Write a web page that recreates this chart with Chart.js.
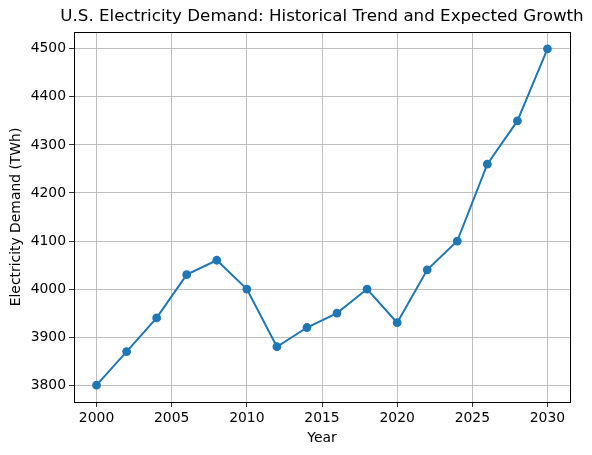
<!DOCTYPE html>
<html><head><meta charset="utf-8">
<script src="https://cdn.jsdelivr.net/npm/chart.js@4"></script>
<style>html,body{margin:0;padding:0;background:#fff}#wrap{width:592px;height:455px}</style>
</head><body><div id="wrap"><canvas id="c" width="592" height="455"></canvas></div>
<script>
const years = [2000,2002,2004,2006,2008,2010,2012,2014,2016,2018,2020,2022,2024,2026,2028,2030];
const demand = [3800,3870,3940,4030,4060,4000,3880,3920,3950,4000,3930,4040,4100,4260,4350,4500];
const xTicks = [2000,2005,2010,2015,2020,2025,2030];
const yTicks = [3800,3900,4000,4100,4200,4300,4400,4500];
const titleText = 'U.S. Electricity Demand: Historical Trend and Expected Growth';
const FONT = "'DejaVu Sans', sans-serif";

const frame = {
  id:'frame',
  afterDraw(chart){
    const {ctx, chartArea:a} = chart;
    ctx.save();
    ctx.strokeStyle='#000'; ctx.lineWidth=1;
    ctx.strokeRect(Math.round(a.left)+0.5, Math.round(a.top)+0.5, Math.round(a.right-a.left), Math.round(a.bottom-a.top));
    ctx.fillStyle='#000';
    ctx.font = "16.7px " + FONT;
    ctx.textAlign='center'; ctx.textBaseline='middle';
    ctx.fillText(titleText, (a.left+a.right)/2, 17);
    ctx.restore();
  }
};

new Chart(document.getElementById('c'), {
  type:'line',
  data:{ datasets:[{
    data: years.map((y,i)=>({x:y,y:demand[i]})),
    borderColor:'#1f77b4', backgroundColor:'#1f77b4',
    borderWidth:2, pointRadius:4.4, pointHoverRadius:4.4, pointBorderWidth:0, tension:0
  }]},
  options:{
    responsive:false, animation:false,
    layout:{padding:{top:32,right:22,left:0,bottom:0}},
    plugins:{legend:{display:false}, tooltip:{enabled:false}, title:{display:false}},
    scales:{
      x:{type:'linear', min:1998.5, max:2031.5,
        afterBuildTicks(s){ s.ticks = xTicks.map(v=>({value:v})); },
        afterFit(s){ s.height = 53; },
        grid:{color:'#b0b0b0', lineWidth:0.8, tickColor:'#000', tickLength:5, drawTicks:true},
        border:{display:false},
        ticks:{color:'#000', font:{family:FONT, size:13.9}, padding:3, maxRotation:0, callback:v=>String(v)},
        title:{display:true, text:'Year', color:'#000', font:{family:FONT, size:13.9}, padding:{top:2,bottom:8}}
      },
      y:{type:'linear', min:3765, max:4535,
        afterBuildTicks(s){ s.ticks = yTicks.map(v=>({value:v})); },
        afterFit(s){ s.width = 74; },
        grid:{color:'#b0b0b0', lineWidth:0.8, tickColor:'#000', tickLength:5, drawTicks:true},
        border:{display:false},
        ticks:{color:'#000', font:{family:FONT, size:13.9}, padding:3, callback:v=>String(v)},
        title:{display:true, text:'Electricity Demand (TWh)', color:'#000', font:{family:FONT, size:13.9}, padding:{top:8,bottom:4}}
      }
    }
  },
  plugins:[frame]
});
</script></body></html>
